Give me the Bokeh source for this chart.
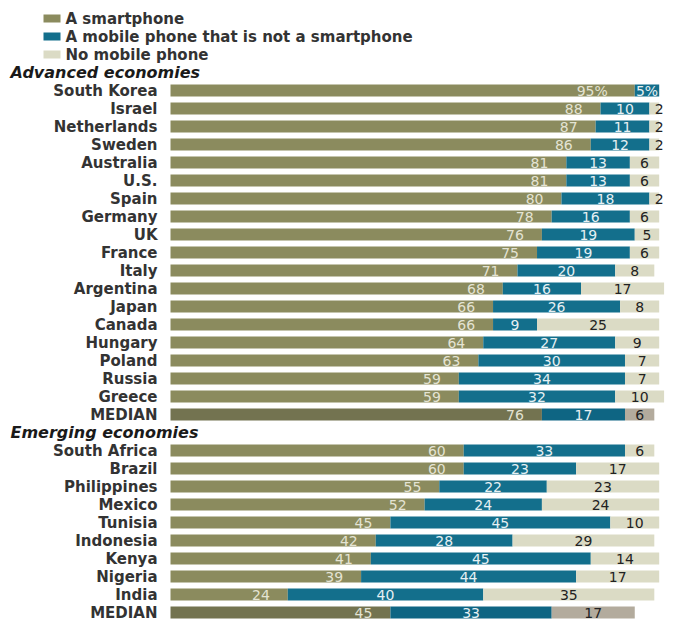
from bokeh.plotting import figure
from bokeh.models import ColumnDataSource, Range1d
from bokeh.core.properties import value
from bokeh.embed import file_html
from bokeh.resources import INLINE

# ---------------- data ----------------
legend_labels = ["A smartphone", "A mobile phone that is not a smartphone", "No mobile phone"]
group_titles = ["Advanced economies", "Emerging economies"]
median_label = "MEDIAN"

adv_countries = ["South Korea", "Israel", "Netherlands", "Sweden", "Australia", "U.S.",
                 "Spain", "Germany", "UK", "France", "Italy", "Argentina", "Japan",
                 "Canada", "Hungary", "Poland", "Russia", "Greece"]
adv_smart = [95, 88, 87, 86, 81, 81, 80, 78, 76, 75, 71, 68, 66, 66, 64, 63, 59, 59]
adv_mobile = [5, 10, 11, 12, 13, 13, 18, 16, 19, 19, 20, 16, 26, 9, 27, 30, 34, 32]
adv_none = [0, 2, 2, 2, 6, 6, 2, 6, 5, 6, 8, 17, 8, 25, 9, 7, 7, 10]
adv_median = [76, 17, 6]

emg_countries = ["South Africa", "Brazil", "Philippines", "Mexico", "Tunisia",
                 "Indonesia", "Kenya", "Nigeria", "India"]
emg_smart = [60, 60, 55, 52, 45, 42, 41, 39, 24]
emg_mobile = [33, 23, 22, 24, 45, 28, 45, 44, 40]
emg_none = [6, 17, 23, 24, 10, 29, 14, 17, 35]
emg_median = [45, 33, 17]

# ---------------- styles ----------------
C_SMART, C_MOBILE, C_NONE = "#8b8b5e", "#136f8c", "#dbdbc5"
M_SMART, M_MOBILE, M_NONE = "#737350", "#0e6583", "#b3ab9d"
T_SMART, T_MOBILE, T_NONE = "#e4e3d3", "#e6f0f3", "#222222"
LABEL_COLOR = "#333333"
FONT = "DejaVu Sans"

W, H = 673, 620
ROW_PX = 18.0
TOP_PX = 18.0
X0_PX = 170.0
PX_PER = 4.887

# ---------------- build rows ----------------
rows = []  # (row_index, label, smart, mobile, none, is_median, pct)
r = 3
header_rows = []
header_rows.append(r); r += 1
for i, c in enumerate(adv_countries):
    rows.append((r, c, adv_smart[i], adv_mobile[i], adv_none[i], False, i == 0)); r += 1
rows.append((r, median_label, *adv_median, True, False)); r += 1
header_rows.append(r); r += 1
for i, c in enumerate(emg_countries):
    rows.append((r, c, emg_smart[i], emg_mobile[i], emg_none[i], False, False)); r += 1
rows.append((r, median_label, *emg_median, True, False)); r += 1

y = [row[0] for row in rows]
names = [row[1] for row in rows]
s = [row[2] for row in rows]
m = [row[3] for row in rows]
n = [row[4] for row in rows]
med = [row[5] for row in rows]
pct = [row[6] for row in rows]

s_end = s
m_end = [a + b for a, b in zip(s, m)]
n_end = [a + b + c for a, b, c in zip(s, m, n)]

bars = ColumnDataSource(dict(
    y=y, s0=[0] * len(y), s1=s_end, m1=m_end, n1=n_end,
    cs=[M_SMART if k else C_SMART for k in med],
    cm=[M_MOBILE if k else C_MOBILE for k in med],
    cn=[M_NONE if k else C_NONE for k in med],
))

x_start = -X0_PX / PX_PER
x_end = (W - X0_PX) / PX_PER
y_bottom = (H - TOP_PX) / ROW_PX
y_top = -TOP_PX / ROW_PX

p = figure(width=W, height=H, output_backend="svg", toolbar_location=None,
           x_range=Range1d(x_start, x_end), y_range=Range1d(y_bottom, y_top),
           min_border=0)
p.axis.visible = False
p.grid.visible = False
p.outline_line_color = None
p.background_fill_color = "white"
p.border_fill_color = "white"

BH = 12.0 / ROW_PX
p.hbar(y="y", left="s0", right="s1", height=BH, fill_color="cs", line_color=None, source=bars)
p.hbar(y="y", left="s1", right="m1", height=BH, fill_color="cm", line_color=None, source=bars)
p.hbar(y="y", left="m1", right="n1", height=BH, fill_color="cn", line_color=None, source=bars)

# value labels
def fmt(v, is_pct):
    return f"{v}%" if is_pct else str(v)

NUM_SIZE = "14px"

ls = dict(x=[], y=[], t=[], off=[])
for i in range(len(y)):
    if s[i] > 0:
        ls["x"].append(s_end[i]); ls["y"].append(y[i]); ls["t"].append(fmt(s[i], pct[i]))
        ls["off"].append(-27 if pct[i] else -18)
p.text(x="x", y="y", text="t", x_offset="off", source=ColumnDataSource(ls),
       text_align="right", text_baseline="middle", text_color=T_SMART,
       text_font=value(FONT), text_font_size=NUM_SIZE)

lm = dict(x=[], y=[], t=[])
for i in range(len(y)):
    if m[i] > 0:
        lm["x"].append(s_end[i] + m[i] / 2); lm["y"].append(y[i]); lm["t"].append(fmt(m[i], pct[i]))
p.text(x="x", y="y", text="t", source=ColumnDataSource(lm),
       text_align="center", text_baseline="middle", text_color=T_MOBILE,
       text_font=value(FONT), text_font_size=NUM_SIZE)

ln = dict(x=[], y=[], t=[], off=[])
for i in range(len(y)):
    if n[i] > 0:
        ln["x"].append(m_end[i] + n[i] / 2); ln["y"].append(y[i]); ln["t"].append(fmt(n[i], pct[i]))
        ln["off"].append(5 if n[i] <= 2 else 0)
p.text(x="x", y="y", text="t", x_offset="off", source=ColumnDataSource(ln),
       text_align="center", text_baseline="middle", text_color=T_NONE,
       text_font=value(FONT), text_font_size=NUM_SIZE)

# row labels
p.text(x=[0] * len(y), y=y, text=names, x_offset=-13,
       text_align="right", text_baseline="middle", text_color=LABEL_COLOR,
       text_font=value(FONT), text_font_size="15px", text_font_style="bold")

# group headers
hx = (10 - X0_PX) / PX_PER
p.text(x=[hx] * len(header_rows), y=header_rows, text=group_titles,
       text_align="left", text_baseline="middle", text_color="#1a1a1a",
       text_font=value(FONT), text_font_size="16px", text_font_style="bold italic")

# legend
leg_rows = [0, 1, 2]
sq_x = (51.5 - X0_PX) / PX_PER
tx_x = (65 - X0_PX) / PX_PER
p.rect(x=[sq_x] * 3, y=leg_rows, width=17, height=8, width_units="screen",
       height_units="screen", fill_color=[C_SMART, C_MOBILE, C_NONE], line_color=None)
p.text(x=[tx_x] * 3, y=leg_rows, text=legend_labels,
       text_align="left", text_baseline="middle", text_color=LABEL_COLOR,
       text_font=value(FONT), text_font_size="15px", text_font_style="bold")

open("out.html", "w").write(file_html(p, INLINE))
